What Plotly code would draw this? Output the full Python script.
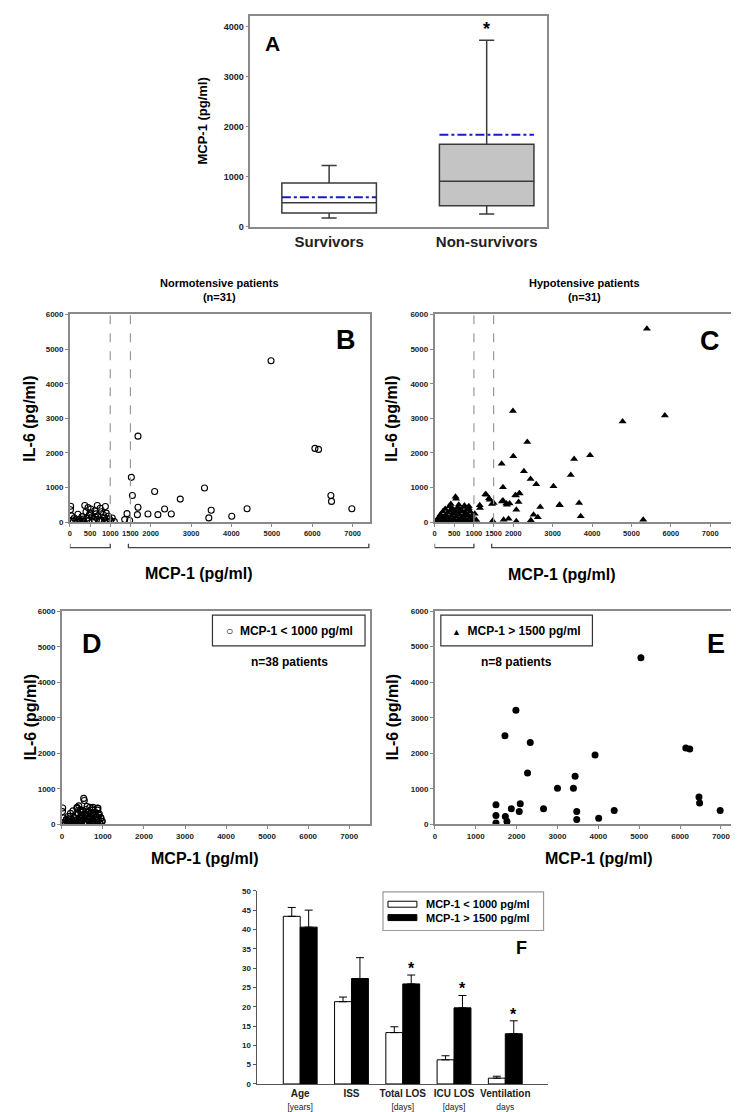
import plotly.graph_objects as go

W, H = 739, 1112
FONT = 'Liberation Sans, Arial, sans-serif'

# ---- Panel A: MCP-1 by outcome (box summary, pg/ml)
groups_a = ['Survivors', 'Non-survivors']
q1_a = [279, 423]
median_a = [483, 912]
q3_a = [879, 1653]
lower_a = [178, 258]
upper_a = [1230, 3736]
mean_a = [595, 1845]
star_a = [None, 3950]

# ---- Panel B: normotensive patients, MCP-1 vs IL-6 (pg/ml)
b_low_mcp = [20, 15, 40, 60, 90, 110, 150, 180, 200, 230, 260, 300, 320, 350, 370, 400,
             420, 450, 470, 500, 520, 540, 560, 600, 620, 650, 680, 700, 720, 750, 780, 800,
             830, 860, 880, 900, 930, 950, 980, 1010, 1050, 1100, 240, 330, 480, 640, 760, 870]
b_low_il6 = [460, 360, 180, 60, 20, 120, 40, 10, 230, 80, 30, 160, 60, 20, 480, 300,
             110, 420, 40, 260, 380, 150, 20, 70, 330, 240, 480, 180, 60, 400, 300, 30,
             220, 120, 450, 260, 20, 170, 90, 30, 120, 20, 10, 90, 200, 140, 60, 10]
b_high_mcp = [1687, 1523, 1548, 2099, 2733, 3333, 6066, 6156, 6461, 6477, 1687, 1415, 1358,
              1481, 1672, 1933, 2180, 2346, 2511, 3440, 3499, 4008, 4387, 6980, 4980]
b_high_il6 = [2486, 1294, 771, 886, 666, 989, 2131, 2103, 771, 600, 429, 246, 74,
              46, 217, 237, 217, 380, 237, 123, 343, 171, 389, 389, 4666]

# ---- Panel C: hypotensive patients
c_low_mcp = [30, 60, 90, 110, 130, 150, 170, 190, 210, 230, 250, 270, 290, 310, 330, 350,
             370, 390, 410, 430, 450, 470, 490, 510, 530, 550, 570, 590, 610, 630, 650, 670,
             690, 710, 730, 750, 770, 790, 810, 830, 850, 870, 890, 910, 930, 950, 980, 1020,
             1060, 200, 320, 440, 560, 680, 800, 920, 413, 532, 547, 615, 760, 870]
c_low_il6 = [20, 60, 10, 140, 40, 220, 90, 30, 310, 150, 60, 380, 200, 20, 270, 110,
             450, 320, 60, 180, 400, 250, 90, 340, 30, 160, 290, 420, 70, 230, 360, 130,
             20, 310, 180, 440, 80, 260, 350, 50, 200, 400, 120, 300, 30, 190, 90, 240,
             60, 10, 5, 15, 10, 25, 10, 20, 522, 732, 674, 502, 480, 460]
c_high_mcp = [5392, 1990, 5848, 4775, 2354, 3949, 1704, 2000, 3544, 2269, 3459, 2438, 2582,
              3020, 1737, 2159, 2050, 2066, 2152, 2134, 3180, 3671, 1737, 1458, 1501, 1823,
              1906, 1712, 1838, 2076, 2684, 3172, 3711, 2514, 2623, 2446, 2076, 1754, 1881,
              1476, 5299, 1400, 1316, 1383, 1291, 1154, 1147]
c_high_il6 = [5591, 3210, 3084, 2912, 2320, 1937, 1690, 1908, 1822, 1469, 1363, 1248, 1096,
              1038, 1010, 829, 780, 772, 838, 579, 485, 551, 628, 522, 551, 542,
              542, 600, 502, 359, 436, 502, 169, 215, 141, 55, 26, 72, 100,
              43, 72, 645, 789, 694, 809, 407, 485]

# ---- Panel E: MCP-1 > 1500 pg/ml
e_mcp = [1495, 1495, 1495, 1724, 1764, 1870, 2090, 2065, 2268, 2334, 2659, 3000, 3390, 3431,
         3471, 3471, 1715, 1983, 3919, 5041, 6139, 6236, 4008, 4387, 6461, 6477, 6980]
e_il6 = [552, 252, 36, 224, 84, 440, 580, 364, 1448, 2305, 440, 1017, 1017, 1353,
         364, 140, 2493, 3213, 1952, 4686, 2148, 2120, 171, 389, 771, 600, 389]

# ---- Panel F: outcomes by MCP-1 group (mean, SEM)
cats_f = ['Age', 'ISS', 'Total LOS', 'ICU LOS', 'Ventilation']
units_f = ['[years]', '', '[days]', '[days]', 'days']
low_f = [43.4, 21.3, 13.3, 6.25, 1.5]
low_err = [2.3, 1.2, 1.5, 1.05, 0.5]
high_f = [40.6, 27.3, 25.9, 19.7, 13.0]
high_err = [4.4, 5.4, 2.3, 3.2, 3.35]
sig_f = [False, False, True, True, True]

cutoffs = [1000, 1500]
mcp_ticks = [0, 500, 1000, 1500, 2000, 3000, 4000, 5000, 6000, 7000]


def px(x):
    return x / W


def py(y):
    return 1 - y / H


def note(text, x, y, size, angle=0, xanchor='center', color='black'):
    return dict(x=px(x), y=py(y), xref='paper', yref='paper', text=text, showarrow=False,
                textangle=angle, xanchor=xanchor, yanchor='middle',
                font=dict(family=FONT, size=size, color=color, weight='bold'))


fig = go.Figure()

# A - boxes
fills = ['white', '#c4c4c4']
box_w = 0.6
for i in range(len(groups_a)):
    fig.add_trace(go.Box(x=[i], q1=[q1_a[i]], median=[median_a[i]], q3=[q3_a[i]],
                         lowerfence=[lower_a[i]], upperfence=[upper_a[i]],
                         width=box_w, whiskerwidth=0.16, fillcolor=fills[i],
                         line=dict(color='#3a3a3a', width=1.5), boxpoints=False,
                         xaxis='x', yaxis='y', showlegend=False, hoverinfo='skip'))
    fig.add_trace(go.Scatter(x=[i - box_w / 2, i + box_w / 2], y=[mean_a[i]] * 2, mode='lines',
                             line=dict(color='#1a1acc', width=2, dash='dashdot'),
                             xaxis='x', yaxis='y', showlegend=False))

# B
fig.add_trace(go.Scatter(x=b_low_mcp + b_high_mcp, y=b_low_il6 + b_high_il6, mode='markers',
                         marker=dict(symbol='circle-open', size=6, color='black', line=dict(width=1.1)),
                         xaxis='x2', yaxis='y2', showlegend=False))
# C
fig.add_trace(go.Scatter(x=c_low_mcp + c_high_mcp, y=c_low_il6 + c_high_il6, mode='markers',
                         marker=dict(symbol='triangle-up', size=7, color='black'),
                         xaxis='x3', yaxis='y3', showlegend=False))
# D : all patients with MCP-1 < 1000
d_pairs = [(m, v) for m, v in zip(b_low_mcp + c_low_mcp, b_low_il6 + c_low_il6) if m < 1000]
fig.add_trace(go.Scatter(x=[p[0] for p in d_pairs], y=[p[1] for p in d_pairs], mode='markers',
                         marker=dict(symbol='circle-open', size=6, color='black', line=dict(width=1.1)),
                         xaxis='x4', yaxis='y4', showlegend=False))
# E
fig.add_trace(go.Scatter(x=e_mcp, y=e_il6, mode='markers',
                         marker=dict(symbol='circle', size=7, color='black'),
                         xaxis='x5', yaxis='y5', showlegend=False))

# F
fig.add_trace(go.Bar(x=list(range(len(cats_f))), y=low_f, name='MCP-1 < 1000 pg/ml',
                     marker=dict(color='white', line=dict(color='black', width=1)),
                     error_y=dict(type='data', array=low_err, arrayminus=[0] * 5, symmetric=False,
                                  color='black', thickness=1, width=4),
                     xaxis='x6', yaxis='y6', showlegend=False))
fig.add_trace(go.Bar(x=list(range(len(cats_f))), y=high_f, name='MCP-1 > 1500 pg/ml',
                     marker=dict(color='black', line=dict(color='black', width=1)),
                     error_y=dict(type='data', array=high_err, arrayminus=[0] * 5, symmetric=False,
                                  color='black', thickness=1, width=4),
                     xaxis='x6', yaxis='y6', showlegend=False))

GRAY = '#8a8a8a'
tick9 = dict(family=FONT, size=9, color='#222', weight='bold')
tick8 = dict(family=FONT, size=8, color='#222', weight='bold')
tick75 = dict(family=FONT, size=7.5, color='#222', weight='bold')


def frame(**kw):
    d = dict(showline=True, linecolor=GRAY, linewidth=1.5, mirror=True, ticks='outside',
             ticklen=3, tickcolor=GRAY, showgrid=False, zeroline=False, tickangle=0)
    d.update(kw)
    return d


ticktext_f = []
for c, u in zip(cats_f, units_f):
    t = '<b>' + c + '</b>'
    if u:
        t += "<br><span style='font-size:8.5px'>" + u + '</span>'
    ticktext_f.append(t)

fig.update_layout(
    width=W, height=H, autosize=False, margin=dict(l=0, r=0, t=0, b=0),
    paper_bgcolor='white', plot_bgcolor='white',
    font=dict(family=FONT, color='black'),
    barmode='group', bargap=0.34, bargroupgap=0,
    xaxis=frame(domain=[px(241), px(538)], range=[-0.5, 1.38], tickvals=[0, 1], ticktext=groups_a,
                ticks='', tickfont=dict(family=FONT, size=15, color='#222', weight='bold'), anchor='y'),
    yaxis=frame(domain=[py(216.7), py(4)], range=[0, 4220], tickvals=[0, 1000, 2000, 3000, 4000],
                tickfont=tick9, anchor='x'),
    xaxis2=frame(domain=[px(60), px(361)], range=[0, 7430], tickvals=mcp_ticks, tickfont=tick75, anchor='y2'),
    yaxis2=frame(domain=[py(514.3), py(304)], range=[0, 6030], dtick=1000, tickfont=tick8, anchor='x2'),
    xaxis3=frame(domain=[px(425.7), px(727)], range=[0, 7630], tickvals=mcp_ticks, tickfont=tick75, anchor='y3'),
    yaxis3=frame(domain=[py(514.3), py(304)], range=[0, 6030], dtick=1000, tickfont=tick8, anchor='x3'),
    xaxis4=frame(domain=[px(52), px(360.7)], range=[0, 7500], dtick=1000, tickfont=tick8, anchor='y4'),
    yaxis4=frame(domain=[py(819), py(604.3)], range=[0, 6000], dtick=1000, tickfont=tick8, anchor='x4'),
    xaxis5=frame(domain=[px(426), px(733)], range=[0, 7490], dtick=1000, tickfont=tick8, anchor='y5'),
    yaxis5=frame(domain=[py(819), py(604)], range=[0, 6000], dtick=1000, tickfont=tick8, anchor='x5'),
    xaxis6=dict(domain=[px(247.3), px(539.3)], range=[-0.85, 4.83], tickvals=list(range(5)),
                ticktext=ticktext_f, showline=True, linecolor='#555', linewidth=1.2, ticks='',
                showgrid=False, zeroline=False, tickangle=0,
                tickfont=dict(family=FONT, size=10, color='#222'), anchor='y6'),
    yaxis6=dict(domain=[py(1080.7), py(886)], range=[0, 50], dtick=5, showline=True, linecolor='#555',
                linewidth=1.2, ticks='outside', ticklen=3, tickcolor='#555', showgrid=False, zeroline=False,
                tickfont=tick8, anchor='x6'),
)

shapes = []
# dashed cut-offs and group brackets on B and C
for xa, ya, xmax in [('x2', 'y2', 7400), ('x3', 'y3', 7600)]:
    for c in cutoffs:
        shapes.append(dict(type='line', xref=xa, yref=ya + ' domain', x0=c, x1=c, y0=0, y1=1,
                           line=dict(color='#999', width=1.2, dash='dash')))
    for lo, hi in [(0, cutoffs[0]), (cutoffs[1] - 50, xmax)]:
        shapes.append(dict(type='path', xref=xa, yref='paper',
                           path='M %s,%s L %s,%s L %s,%s L %s,%s' % (lo, py(536), lo, py(540), hi, py(540), hi, py(536)),
                           line=dict(color='#444', width=1.3)))
# legend boxes
shapes.append(dict(type='rect', xref='paper', yref='paper', x0=px(203), x1=px(356), y0=py(639), y1=py(608),
                   line=dict(color='#333', width=1.2)))
shapes.append(dict(type='rect', xref='paper', yref='paper', x0=px(432), x1=px(584), y0=py(639), y1=py(608),
                   line=dict(color='#333', width=1.2)))
shapes.append(dict(type='rect', xref='paper', yref='paper', x0=px(374), x1=px(535), y0=py(926), y1=py(887),
                   line=dict(color='#999', width=1.2)))
shapes.append(dict(type='rect', xref='paper', yref='paper', x0=px(379), x1=px(408), y0=py(902.5), y1=py(896.5),
                   line=dict(color='black', width=1), fillcolor='white'))
shapes.append(dict(type='rect', xref='paper', yref='paper', x0=px(379), x1=px(408), y0=py(916), y1=py(910),
                   line=dict(color='black', width=1), fillcolor='black'))

ann = [
    note('A', 263, 32, 21),
    note('MCP-1 (pg/ml)', 193, 110, 13, angle=-90),
    note('Normotensive patients<br>(n=31)', 210, 280, 11),
    note('Hypotensive patients<br>(n=31)', 576, 280, 11),
    note('B', 337, 331, 27),
    note('C', 702, 332, 27),
    note('D', 82, 637, 27),
    note('E', 708, 637, 27),
    note('F', 513, 944, 18),
    note('IL-6 (pg/ml)', 20, 410, 16, angle=-90),
    note('IL-6 (pg/ml)', 383, 410, 16, angle=-90),
    note('IL-6 (pg/ml)', 20, 711, 16, angle=-90),
    note('IL-6 (pg/ml)', 383, 711, 16, angle=-90),
    note('MCP-1 (pg/ml)', 190, 566, 16),
    note('MCP-1 (pg/ml)', 553, 567, 16),
    note('MCP-1 (pg/ml)', 196, 853, 16),
    note('MCP-1 (pg/ml)', 591, 853, 16),
    note('\u25cb  MCP-1 < 1000 pg/ml', 280, 624, 12),
    note("<span style='font-size:9px'>\u25b2</span>  MCP-1 > 1500 pg/ml", 508, 624, 12),
    note('n=38 patients', 280, 655, 12),
    note('n=8 patients', 508, 655, 12),
    note('MCP-1 < 1000 pg/ml', 415, 899.5, 11, xanchor='left'),
    note('MCP-1 > 1500 pg/ml', 415, 913, 11, xanchor='left'),
]
for i, s in enumerate(star_a):
    if s is not None:
        ann.append(dict(x=i, y=s, xref='x', yref='y', text='*', showarrow=False, yanchor='middle',
                        font=dict(family=FONT, size=18, color='black', weight='bold')))
# asterisks above the high-group bars (offset of the second bar in each group)
half = (1 - 0.34) / 4
for i, s in enumerate(sig_f):
    if s:
        ann.append(dict(x=i + half, y=high_f[i] + high_err[i], xref='x6', yref='y6', text='*',
                        showarrow=False, yanchor='bottom', yshift=-4,
                        font=dict(family=FONT, size=16, color='black', weight='bold')))

fig.update_layout(shapes=shapes, annotations=ann)
fig.write_html("out.html")
